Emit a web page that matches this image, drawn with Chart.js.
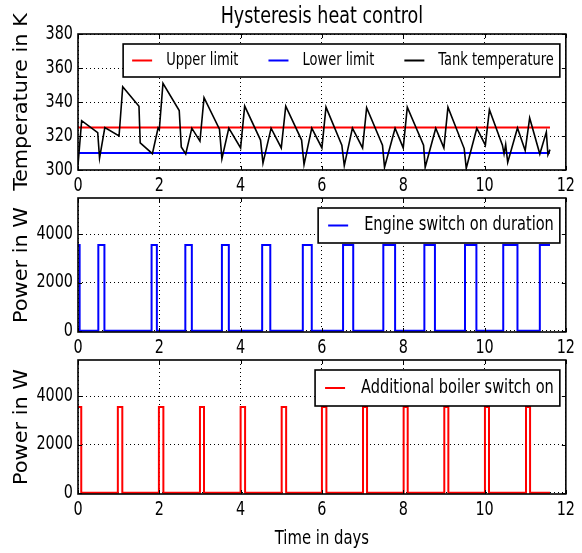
<!DOCTYPE html>
<html><head><meta charset="utf-8">
<script src="https://cdn.jsdelivr.net/npm/chart.js@4.4.0/dist/chart.umd.min.js"></script>
<style>
html,body{margin:0;padding:0;background:#fff;}
#wrap{position:relative;width:582px;height:553px;overflow:hidden;}
#wrap canvas{position:absolute;left:0;top:0;}
</style></head><body>
<div id="wrap">
<canvas id="cTemp" width="582" height="553"></canvas>
<canvas id="cEngine" width="582" height="553"></canvas>
<canvas id="cBoiler" width="582" height="553"></canvas>
</div>
<script>
// ---------- data ----------
const dayTicks = [0, 2, 4, 6, 8, 10, 12];
const tempTicks = [300, 320, 340, 360, 380];
const powerTicks = [0, 2000, 4000];

const tempDays = [0, 0.09, 0.485, 0.53, 0.66, 1.01, 1.10, 1.50, 1.53, 1.83, 1.97, 2.00, 2.09, 2.49, 2.54, 2.65, 2.80, 3.00, 3.10, 3.48, 3.54, 3.71, 4.00, 4.10, 4.49, 4.55, 4.75, 5.00, 5.11, 5.50, 5.56, 5.75, 6.00, 6.10, 6.49, 6.55, 6.75, 7.00, 7.10, 7.49, 7.54, 7.80, 8.00, 8.10, 8.50, 8.54, 8.80, 9.00, 9.10, 9.50, 9.55, 9.81, 10.02, 10.12, 10.44, 10.48, 10.52, 10.57, 10.81, 11.00, 11.11, 11.36, 11.52, 11.56, 11.61];
const tempK = [303, 329, 322, 307, 325, 320, 349, 337.5, 316, 309.6, 324.7, 323.7, 351, 335, 313.6, 309.4, 324.6, 317, 342.6, 324, 306.6, 324.6, 313, 337.6, 317.6, 304, 324.6, 313, 337.6, 317.6, 303.2, 324.6, 313, 337, 314.6, 302.6, 324.6, 313, 336.6, 314.6, 301.6, 324.6, 313, 337, 314.6, 301.6, 324.6, 313, 337, 312.6, 301, 324.6, 314.6, 335.5, 314.6, 309.5, 315, 304.5, 324.7, 311.4, 330.6, 309.4, 322.3, 309, 312];

const limitDays = [0, 11.61];
const upperLimit = [325, 325];
const lowerLimit = [310, 310];

const engineDays = [0, 0.04, 0.50, 0.65, 1.81, 1.94, 2.64, 2.80, 3.54, 3.71, 4.53, 4.73, 5.53, 5.75, 6.52, 6.77, 7.51, 7.80, 8.52, 8.78, 9.52, 9.80, 10.46, 10.81, 11.36, 11.61];
const enginePower = [3550, 0, 3550, 0, 3550, 0, 3550, 0, 3550, 0, 3550, 0, 3550, 0, 3550, 0, 3550, 0, 3550, 0, 3550, 0, 3550, 0, 3550, 3550];

const boilerDays = [0, 0.08, 0.98, 1.09, 1.99, 2.10, 3.00, 3.10, 4.00, 4.11, 5.01, 5.12, 6.00, 6.11, 7.01, 7.11, 8.01, 8.11, 9.01, 9.11, 10.01, 10.11, 11.02, 11.12, 11.61];
const boilerPower = [3550, 0, 3550, 0, 3550, 0, 3550, 0, 3550, 0, 3550, 0, 3550, 0, 3550, 0, 3550, 0, 3550, 0, 3550, 0, 3550, 0, 0];

// ---------- helpers ----------
const FONT = "'DejaVu Sans Condensed', 'DejaVu Sans', sans-serif";
const H = 553;
Chart.defaults.font.family = FONT;
Chart.defaults.font.size = 16;
Chart.defaults.color = '#000';

// the reference lettering is drawn taller than wide: stretch glyphs vertically on screen
(function () {
  const K = 1.16;
  const proto = CanvasRenderingContext2D.prototype;
  const orig = proto.fillText;
  proto.fillText = function (text, x, y, maxWidth) {
    const m = this.getTransform();
    const p = m.transformPoint(new DOMPoint(x, y));
    this.save();
    this.setTransform(new DOMMatrix().translate(p.x, p.y).scale(1, K).translate(-p.x, -p.y).multiply(m));
    if (maxWidth === undefined) orig.call(this, text, x, y); else orig.call(this, text, x, y, maxWidth);
    this.restore();
  };
})();

const zip = (xs, ys) => xs.map((x, i) => ({ x: x, y: ys[i] }));

const framePlugin = {
  id: 'frame',
  afterDatasetsDraw(chart) {
    const { ctx, chartArea: a, scales: { x, y } } = chart;
    ctx.save();
    ctx.strokeStyle = '#000';
    ctx.lineWidth = 1;
    ctx.beginPath();
    x.ticks.forEach(t => {
      const px = Math.round(x.getPixelForValue(t.value)) + 0.5;
      ctx.moveTo(px, a.bottom); ctx.lineTo(px, a.bottom - 4);
      ctx.moveTo(px, a.top); ctx.lineTo(px, a.top + 4);
    });
    y.ticks.forEach(t => {
      const py = Math.round(y.getPixelForValue(t.value)) + 0.5;
      ctx.moveTo(a.left, py); ctx.lineTo(a.left + 4, py);
      ctx.moveTo(a.right, py); ctx.lineTo(a.right - 4, py);
    });
    ctx.stroke();
    ctx.lineWidth = 1.6;
    ctx.strokeRect(a.left, a.top, a.right - a.left, a.bottom - a.top);
    ctx.restore();
  }
};

const boxLegendPlugin = {
  id: 'boxLegend',
  afterDraw(chart, args, opts) {
    const { ctx, chartArea: a } = chart;
    const items = chart.data.datasets;
    ctx.save();
    ctx.font = (opts.fontSize || 16) + 'px ' + FONT;
    const padL = opts.padL || 9, padR = 6, sample = 20, gap = opts.gap || 14, itemGap = 30, h = opts.height || 34;
    const widths = items.map(d => ctx.measureText(d.label).width);
    const w = padL + padR + widths.reduce((s, v) => s + v + sample + gap, 0) + itemGap * (items.length - 1);
    const right = a.right - 6, left = right - w, top = a.top + 10;
    ctx.fillStyle = '#fff';
    ctx.fillRect(left, top, w, h);
    ctx.lineWidth = 1.6;
    ctx.strokeStyle = '#000';
    ctx.strokeRect(left, top, w, h);
    let xx = left + padL;
    const cy = top + h / 2;
    items.forEach((d, i) => {
      ctx.strokeStyle = d.borderColor;
      ctx.lineWidth = 2;
      ctx.beginPath();
      ctx.moveTo(xx, cy); ctx.lineTo(xx + sample, cy);
      ctx.stroke();
      ctx.fillStyle = '#000';
      ctx.textBaseline = 'middle';
      ctx.textAlign = 'left';
      ctx.fillText(d.label, xx + sample + gap, cy);
      xx += sample + gap + widths[i] + itemGap;
    });
    ctx.restore();
  }
};

function panel(id, cfg) {
  return new Chart(document.getElementById(id), {
    type: 'line',
    data: { datasets: cfg.datasets },
    options: {
      responsive: false,
      animation: false,
      events: [],
      layout: { padding: { left: 0, right: 15, top: cfg.padTop, bottom: 0 } },
      elements: { point: { radius: 0 }, line: { tension: 0 } },
      plugins: {
        legend: { display: false },
        tooltip: { enabled: false },
        title: cfg.title ? {
          display: true, text: cfg.title, fullSize: false, color: '#000',
          font: { size: 19.5, weight: 'normal', family: FONT },
          padding: { top: 5.5, bottom: 5.1 }
        } : { display: false },
        boxLegend: cfg.legend
      },
      scales: {
        x: {
          type: 'linear', min: 0, max: 12,
          afterBuildTicks: s => { s.ticks = dayTicks.map(v => ({ value: v })); },
          afterFit: s => { s.height = H - cfg.bottom; },
          grid: { color: '#000', lineWidth: 1, drawTicks: false },
          border: { display: false, dash: [1, 3] },
          ticks: { padding: 7, maxRotation: 0, autoSkip: false, color: '#000', callback: v => String(v) },
          title: cfg.xTitle ? { display: true, text: cfg.xTitle, color: '#000', font: { size: 16.5 }, padding: { top: 0, bottom: 4 } } : { display: false }
        },
        y: {
          type: 'linear', min: cfg.yMin, max: cfg.yMax,
          afterBuildTicks: s => { s.ticks = cfg.yTicks.map(v => ({ value: v })); },
          afterFit: s => { s.width = 78; s.paddingTop = 0; s.paddingBottom = 0; },
          grid: { color: '#000', lineWidth: 1, drawTicks: false },
          border: { display: false, dash: [1, 3] },
          ticks: { padding: 5, color: '#000', callback: v => String(v) },
          title: { display: true, text: cfg.yTitle, color: '#000', font: { size: 20 }, padding: { top: 10, bottom: 0 } }
        }
      }
    },
    plugins: [framePlugin, boxLegendPlugin]
  });
}

panel('cTemp', {
  title: 'Hysteresis heat control',
  padTop: 0, bottom: 170,
  yMin: 300, yMax: 380, yTicks: tempTicks,
  yTitle: 'Temperature in K',
  legend: { height: 33, fontSize: 14.5, gap: 14, padL: 9 },
  datasets: [
    { label: 'Upper limit', data: zip(limitDays, upperLimit), borderColor: '#ff0000', borderWidth: 2, fill: false, order: 1 },
    { label: 'Lower limit', data: zip(limitDays, lowerLimit), borderColor: '#0000ff', borderWidth: 2, fill: false, order: 2 },
    { label: 'Tank temperature', data: zip(tempDays, tempK), borderColor: '#000000', borderWidth: 1.6, fill: false, order: 0 }
  ]
});

panel('cEngine', {
  padTop: 198, bottom: 332,
  yMin: -50, yMax: 5500, yTicks: powerTicks,
  yTitle: 'Power in W',
  legend: { height: 35, fontSize: 16.2, gap: 16, padL: 10 },
  datasets: [
    { label: 'Engine switch on duration', data: zip(engineDays, enginePower), borderColor: '#0000ff', borderWidth: 2, stepped: 'before', fill: false }
  ]
});

panel('cBoiler', {
  padTop: 360, bottom: 494,
  yMin: -50, yMax: 5500, yTicks: powerTicks,
  yTitle: 'Power in W',
  xTitle: 'Time in days',
  legend: { height: 36, fontSize: 16.2, gap: 16, padL: 10 },
  datasets: [
    { label: 'Additional boiler switch on', data: zip(boilerDays, boilerPower), borderColor: '#ff0000', borderWidth: 2, stepped: 'before', fill: false }
  ]
});
</script>
</body></html>
